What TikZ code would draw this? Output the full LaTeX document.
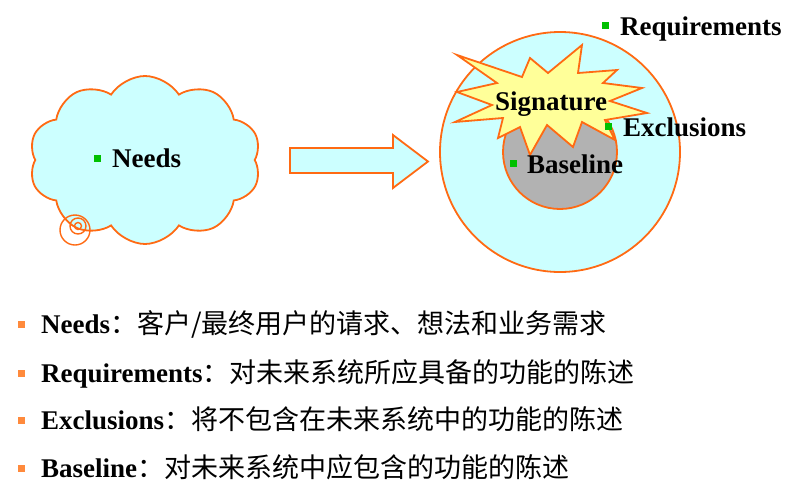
\documentclass[tikz,border=0pt]{standalone}
\usepackage{fontspec}
\setmainfont{Liberation Serif}
\newfontfamily\cjk{Noto Sans CJK SC}
\usetikzlibrary{shapes.symbols}
\definecolor{lcyan}{HTML}{CCFFFF}
\definecolor{orng}{HTML}{FF6A13}
\definecolor{bgreen}{HTML}{00C000}
\definecolor{borange}{HTML}{FF8A3C}
\definecolor{lgray}{HTML}{B2B2B2}
\definecolor{lyellow}{HTML}{FFFF99}
\tikzset{
  outl/.style={draw=orng, line width=1.8pt, line join=miter},
  bul/.style={rectangle, minimum size=7pt, inner sep=0pt, draw=none},
  lbl/.style={anchor=base west, inner sep=0pt, font=\bfseries\fontsize{27}{32}\selectfont},
  line/.style={anchor=base west, inner sep=0pt, font=\fontsize{27}{32}\selectfont},
}
\begin{document}
\begin{tikzpicture}[x=1pt,y=-1pt]
\useasboundingbox (0,0) rectangle (798,501);
% cloud
\node[cloud, outl, fill=lcyan, cloud puffs=10, cloud puff arc=115, aspect=1.4,
      minimum width=232pt, minimum height=168pt, inner sep=0pt] (cloud) at (145,160) {};
\draw[orng, line width=1.4pt] (75,230) circle[radius=15];
\draw[orng, line width=1.4pt] (78,226) circle[radius=8];
\draw[orng, line width=1.4pt] (78,226) circle[radius=3.5];
\node[bul, fill=bgreen] (nb) at (97,158) {};
\node[lbl] (needs) at (112,167) {Needs};
% arrow
\draw[outl, fill=lcyan] (290,148) -- (393,148) -- (393,135) -- (428,161.5) -- (393,188) -- (393,173) -- (290,173) -- cycle;
% circles
\node[circle, outl, fill=lcyan, minimum size=240pt, inner sep=0pt] (req) at (560,152) {};
\node[circle, outl, fill=lgray, minimum size=114pt, inner sep=0pt] (base) at (560,152) {};
% star
\draw[outl, fill=lyellow] (457,55) -- (497,83) -- (457,92) -- (492,105) -- (455,122) -- (503,118)
  -- (498,138) -- (520,127) -- (530,155) -- (547,125) -- (573,147) -- (582,122) -- (615,140)
  -- (605,120) -- (647,113) -- (610,101) -- (642,88) -- (603,83) -- (617,70) -- (578,73)
  -- (582,45) -- (548,73) -- (530,58) -- (522,77) -- cycle;
\node[lbl] (sig) at (495,110) {Signature};
\node[bul, fill=bgreen] (rb) at (605.5,25) {};
\node[lbl] (reqt) at (620,35) {Requirements};
\node[bul, fill=bgreen] (eb) at (608.5,126) {};
\node[lbl] (exct) at (623,136) {Exclusions};
\node[bul, fill=bgreen] (bb) at (513.5,163.5) {};
\node[lbl] (baset) at (527,173) {Baseline};
% bottom list
\node[bul, fill=borange] (b1) at (21.5,324) {};
\node[line] (l1) at (41,333) {\textbf{Needs}\cjk ：客户/最终用户的请求、想法和业务需求};
\node[bul, fill=borange] (b2) at (21.5,373) {};
\node[line] (l2) at (41,382) {\textbf{Requirements}\cjk ：对未来系统所应具备的功能的陈述};
\node[bul, fill=borange] (b3) at (21.5,420) {};
\node[line] (l3) at (41,429) {\textbf{Exclusions}\cjk ：将不包含在未来系统中的功能的陈述};
\node[bul, fill=borange] (b4) at (21.5,468) {};
\node[line] (l4) at (41,477) {\textbf{Baseline}\cjk ：对未来系统中应包含的功能的陈述};
\end{tikzpicture}
\end{document}
